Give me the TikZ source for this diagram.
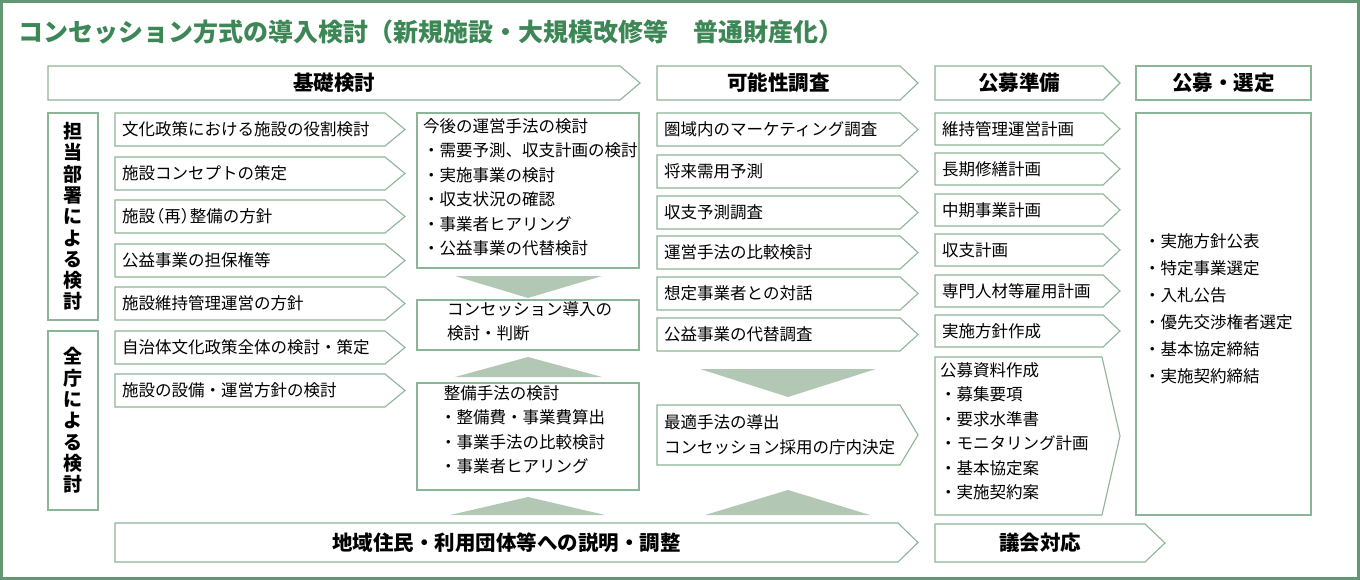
\documentclass[tikz,border=0pt]{standalone}
\usepackage{fontspec}
\setmainfont{Noto Sans CJK JP}
\begin{document}
\begin{tikzpicture}[x=1pt,y=-1pt,
  ln/.style={draw=lnc,line width=1.1pt,fill=white},
  tri/.style={fill=trc,draw=none},
  txt/.style={inner sep=0pt,font=\fontsize{16.5}{24.5}\selectfont,align=left},
  hd/.style={inner sep=0pt,font=\fontsize{20.5}{22}\selectfont\bfseries}]
\definecolor{lnc}{RGB}{140,180,150}
\definecolor{trc}{RGB}{178,200,180}
\definecolor{frm}{RGB}{100,150,115}
\definecolor{ttl}{RGB}{60,135,85}
\useasboundingbox (0,0) rectangle (1360,580);
\draw[draw=frm,line width=3pt] (1.5,1.5) rectangle (1358.5,578.5);
\node[anchor=west,inner sep=0pt,text=ttl,font=\fontsize{25}{28}\selectfont\bfseries] (title) at (18,32) {コンセッション方式の導入検討（新規施設・大規模改修等　普通財産化）};
\newcommand\parr[7]{%
  \draw[ln] (#2,#3) -- (#4-#6,#3) -- (#4,{(#3+#5)/2}) -- (#4-#6,#5) -- (#2,#5) -- cycle;
  \node[txt,anchor=west] (#1) at (#2+7,{(#3+#5)/2}) {#7};}
\newcommand\harr[7]{%
  \draw[ln] (#2,#3) -- (#4-#6,#3) -- (#4,{(#3+#5)/2}) -- (#4-#6,#5) -- (#2,#5) -- cycle;
  \node[hd] (#1) at ({(#2+#4-#6)/2},{(#3+#5)/2}) {#7};}
% headers
\harr{h1}{48}{66}{640}{100}{20}{基礎検討}
\harr{h2}{657}{66}{918}{100}{18}{可能性調査}
\harr{h3}{935}{66}{1120}{100}{17}{公募準備}
\draw[ln] (1136,66) rectangle (1311,100);
\node[hd] (h4) at (1223.5,83) {公募・選定};
% left vertical
\draw[ln] (48,113) rectangle (98,320);
\node[hd,align=center,font=\fontsize{19}{21.3}\selectfont\bfseries] (v1) at (73,216.5) {担\\当\\部\\署\\に\\よ\\る\\検\\討};
\draw[ln] (48,331) rectangle (98,510);
\node[hd,align=center,font=\fontsize{19}{21.3}\selectfont\bfseries] (v2) at (73,420.5) {全\\庁\\に\\よ\\る\\検\\討};
% column 1
\parr{a1}{115}{113}{405}{146}{20}{文化政策における施設の役割検討}
\parr{a2}{115}{157}{405}{190}{20}{施設コンセプトの策定}
\parr{a3}{115}{200}{405}{233}{20}{施設\hspace{-0.45em}（再）\hspace{-0.45em}整備の方針}
\parr{a4}{115}{244}{405}{277}{20}{公益事業の担保権等}
\parr{a5}{115}{287}{405}{320}{20}{施設維持管理運営の方針}
\parr{a6}{115}{331}{405}{364}{20}{自治体文化政策全体の検討・策定}
\parr{a7}{115}{374}{405}{407}{20}{施設の設備・運営方針の検討}
% column 2
\draw[ln] (417,113) rectangle (639,268);
\node[txt,anchor=north west] (b1) at (423,118) {今後の運営手法の検討\\・需要予測、収支計画の検討\\・実施事業の検討\\・収支状況の確認\\・事業者ヒアリング\\・公益事業の代替検討};
\fill[tri] (455,276) -- (602,276) -- (528,298) -- cycle;
\draw[ln] (417,300) rectangle (639,350);
\node[txt,anchor=north west] (b2) at (447,301) {コンセッション導入の\\検討・判断};
\fill[tri] (455,377) -- (602,377) -- (528,357) -- cycle;
\draw[ln] (417,383) rectangle (639,490);
\node[txt,anchor=north west] (b3) at (440,385) {\ 整備手法の検討\\・整備費・事業費算出\\・事業手法の比較検討\\・事業者ヒアリング};
\fill[tri] (450,515) -- (605,515) -- (528,497) -- cycle;
% column 3
\parr{c1}{657}{113}{918}{146}{18}{圏域内のマーケティング調査}
\parr{c2}{657}{155}{918}{188}{18}{将来需用予測}
\parr{c3}{657}{196}{918}{229}{18}{収支予測調査}
\parr{c4}{657}{236}{918}{269}{18}{運営手法の比較検討}
\parr{c5}{657}{277}{918}{310}{18}{想定事業者との対話}
\parr{c6}{657}{318}{918}{351}{18}{公益事業の代替調査}
\fill[tri] (700,369) -- (876,369) -- (788,397) -- cycle;
\draw[ln] (657,405) -- (900,405) -- (918,435) -- (900,465) -- (657,465) -- cycle;
\node[txt,anchor=west] (c7) at (664,435) {最適手法の導出\\コンセッション採用の庁内決定};
\fill[tri] (705,515) -- (870,515) -- (788,490) -- cycle;
% column 4
\parr{d1}{935}{113}{1120}{145}{17}{維持管理運営計画}
\parr{d2}{935}{153}{1120}{185}{17}{長期修繕計画}
\parr{d3}{935}{194}{1120}{226}{17}{中期事業計画}
\parr{d4}{935}{234}{1120}{266}{17}{収支計画}
\parr{d5}{935}{275}{1120}{307}{17}{専門人材等雇用計画}
\parr{d6}{935}{315}{1120}{347}{17}{実施方針作成}
\draw[ln] (935,357) -- (1102,357) -- (1120,436) -- (1102,515) -- (935,515) -- cycle;
\node[txt,anchor=north west] (d7) at (940,362) {公募資料作成\\・募集要項\\・要求水準書\\・モニタリング計画\\・基本協定案\\・実施契約案};
% column 5
\draw[ln] (1136,113) rectangle (1311,515);
\node[txt,anchor=north west,font=\fontsize{16.5}{27}\selectfont] (e1) at (1144,233) {・実施方針公表\\・特定事業選定\\・入札公告\\・優先交渉権者選定\\・基本協定締結\\・実施契約締結};
% bottom
\harr{f1}{115}{523}{918}{562}{20}{地域住民・利用団体等への説明・調整}
\harr{f2}{935}{524}{1165}{562}{20}{議会対応}
\end{tikzpicture}
\end{document}
